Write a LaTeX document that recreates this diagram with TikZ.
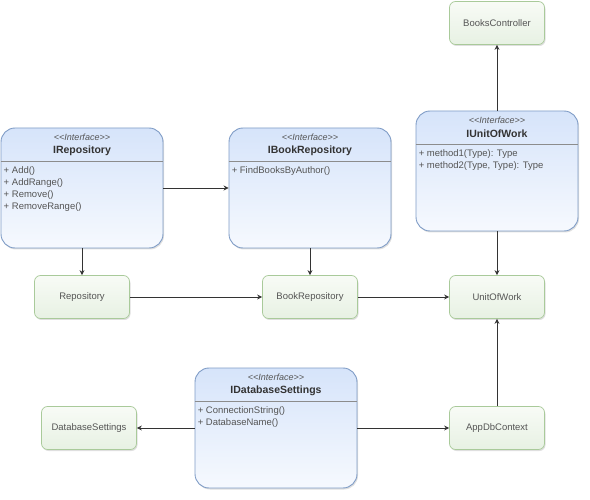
\documentclass[tikz,border=0pt]{standalone}
\usepackage{fontspec}
\setmainfont{Liberation Sans}
\usetikzlibrary{arrows.meta,shadows}

\definecolor{iftop}{HTML}{D6E4FA}
\definecolor{ifbot}{HTML}{F6F9FE}
\definecolor{ifborder}{HTML}{7F9CC6}
\definecolor{cltop}{HTML}{F8FBF6}
\definecolor{clbot}{HTML}{E7F1E3}
\definecolor{clborder}{HTML}{A9CA9A}
\definecolor{txtgrey}{HTML}{555555}

\def\ifw{162pt}
\def\ifh{120pt}

\tikzset{
  ifbox/.style={draw=ifborder, line width=0.9pt, rounded corners=14pt,
    top color=iftop, bottom color=ifbot, minimum width=\ifw, minimum height=\ifh,
    drop shadow={shadow xshift=1pt, shadow yshift=-1.5pt, opacity=0.25}},
  ifstereo/.style={font=\fontsize{9}{10}\selectfont\itshape, text=txtgrey, inner sep=0pt},
  iftitle/.style={font=\fontsize{10.5}{12}\selectfont\bfseries, text=black!80, inner sep=0pt},
  ifsep/.style={draw=black!45, line width=0.6pt},
  ifmembers/.style={font=\fontsize{9.5}{12}\selectfont, text=txtgrey, align=left,
    anchor=north west, inner sep=0pt},
  clbox/.style={draw=clborder, line width=0.7pt, rounded corners=6pt,
    top color=cltop, bottom color=clbot, minimum width=95pt, minimum height=43pt,
    font=\fontsize{9.5}{11}\selectfont, text=txtgrey,
    drop shadow={shadow xshift=1pt, shadow yshift=-1.5pt, opacity=0.25}},
  conn/.style={-{Stealth[length=5pt,width=5pt]}, draw=black!80, line width=0.8pt}
}

% interface box: name, position, title, members
\newcommand{\iface}[4]{%
  \node[ifbox] (#1) at (#2) {};
  \node[ifstereo] (#1-st) at ([yshift=-10pt]#1.north) {{<}{<}Interface{>}{>}};
  \node[iftitle] (#1-ti) at ([yshift=-23pt]#1.north) {#3};
  \draw[ifsep] ([yshift=-34pt]#1.north west) -- ([yshift=-34pt]#1.north east);
  \node[ifmembers] (#1-mb) at ([xshift=3pt,yshift=-39pt]#1.north west) {#4};
}

\begin{document}
\begin{tikzpicture}[x=1pt, y=-1pt]
  \useasboundingbox (0,0) rectangle (590,500);
  % interfaces
  \iface{irepo}{82,188}{IRepository}{+ Add()\\+ AddRange()\\+ Remove()\\+ RemoveRange()}
  \iface{ibookrepo}{310,188}{IBookRepository}{+ FindBooksByAuthor()}
  \iface{iunit}{497,171}{IUnitOfWork}{+ method1(Type): Type\\+ method2(Type, Type): Type}
  \iface{idbset}{276,428}{IDatabaseSettings}{+ ConnectionString()\\+ DatabaseName()}
  % classes
  \node[clbox] (ctrl) at (497,23) {BooksController};
  \node[clbox] (repo) at (82,297) {Repository};
  \node[clbox] (bookrepo) at (310,297) {BookRepository};
  \node[clbox] (unit) at (497,297) {UnitOfWork};
  \node[clbox] (dbset) at (89,428) {DatabaseSettings};
  \node[clbox] (appdb) at (497,428) {AppDbContext};
  % connectors
  \draw[conn] (irepo) -- (ibookrepo);
  \draw[conn] (irepo) -- (repo);
  \draw[conn] (ibookrepo) -- (bookrepo);
  \draw[conn] (repo) -- (bookrepo);
  \draw[conn] (bookrepo) -- (unit);
  \draw[conn] (iunit) -- (ctrl);
  \draw[conn] (iunit) -- (unit);
  \draw[conn] (appdb) -- (unit);
  \draw[conn] (idbset) -- (dbset);
  \draw[conn] (idbset) -- (appdb);
\end{tikzpicture}
\end{document}
